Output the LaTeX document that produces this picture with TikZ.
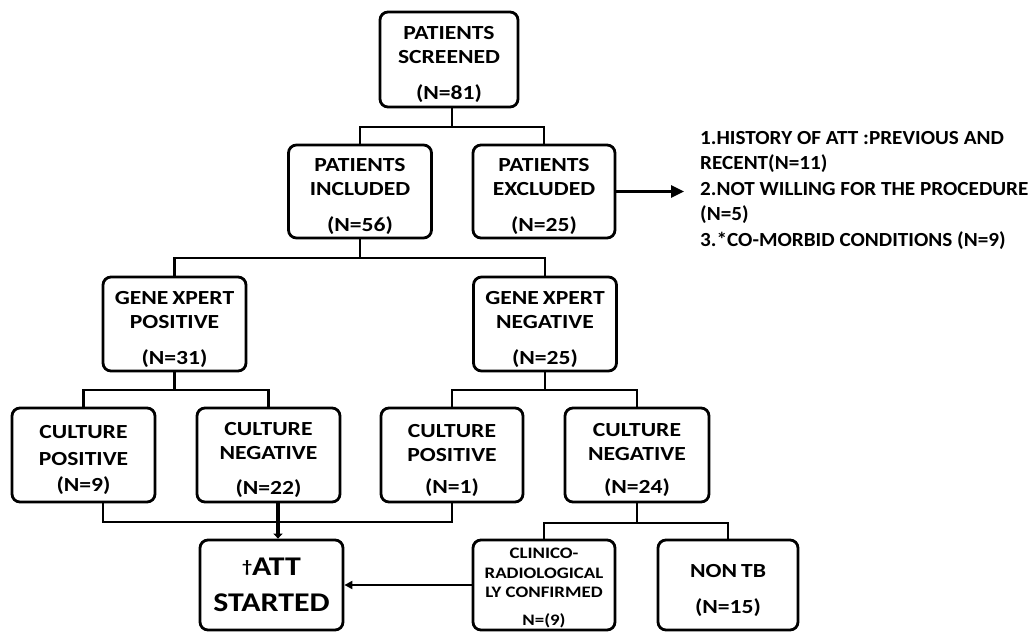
\documentclass[tikz,border=0pt]{standalone}
\usepackage{fontspec}
\setmainfont{Carlito}[FakeStretch=1.06]
\newfontfamily\boxfont{Carlito}[FakeStretch=1.18]
\usetikzlibrary{arrows.meta}
\newcommand{\tp}{\rule{0pt}{24pt}}
\newcommand{\nsp}{\hspace{4pt}}
\begin{document}
\begin{tikzpicture}[x=1pt,y=-1pt,
  box/.style={draw, line width=2.8pt, rounded corners=8pt, minimum width=143pt,
    minimum height=94pt, align=center, inner sep=0pt,
    font=\boxfont\fontsize{20}{24}\selectfont\bfseries},
  conn/.style={line width=2.8pt},
  listtext/.style={anchor=north west, align=left, inner sep=0pt,
    font=\fontsize{20}{25.5}\selectfont\bfseries}]
\useasboundingbox[fill=white] (0,0) rectangle (1033,633);

% boxes
\node[box, minimum width=138pt, minimum height=95pt] (scr) at (449,59.5) {\tp PATIENTS\\SCREENED\\[12pt](N=81)};
\node[box, minimum height=93pt] (inc) at (360,191.5) {\tp PATIENTS\\INCLUDED\\[12pt](N=56)};
\node[box, minimum width=142pt, minimum height=93pt] (exc) at (544,191.5) {\tp PATIENTS\\EXCLUDED\\[12pt](N=25)};
\node[box] (gxp) at (174.5,324) {\tp GENE\nsp XPERT\\POSITIVE\\[12pt](N=31)};
\node[box] (gxn) at (545,324) {\tp GENE\nsp XPERT\\NEGATIVE\\[12pt](N=25)};
\node[box, font=\boxfont\fontsize{20}{26.5}\selectfont\bfseries] (cp1) at (83.5,455) {\tp CULTURE\\POSITIVE\\(N=9)};
\node[box] (cn1) at (268.5,455) {\tp CULTURE\\NEGATIVE\\[11pt](N=22)};
\node[box, minimum width=142pt] (cp2) at (452,455) {\tp CULTURE\\POSITIVE\\[8pt](N=1)};
\node[box, minimum width=144pt] (cn2) at (637,455) {\tp CULTURE\\NEGATIVE\\[9pt](N=24)};
\node[box, minimum height=90pt, font=\boxfont\fontsize{27}{36}\selectfont\bfseries] (att) at (271.5,585) {\raisebox{3pt}{\fontsize{17}{17}\selectfont\dag}ATT\\STARTED};
\node[box, minimum width=142pt, minimum height=90pt, font=\boxfont\fontsize{16}{19.5}\selectfont\bfseries] (cli) at (544,585) {\rule{0pt}{16pt}CLINICO-\\RADIOLOGICAL\\LY CONFIRMED\\[8pt]N=(9)};
\node[box, minimum width=140pt, minimum height=90pt] (ntb) at (728,585) {\tp NON\nsp TB\\[12pt](N=15)};

\node[listtext] (list) at (700,131) {1.HISTORY OF ATT :PREVIOUS AND\\RECENT(N=11)\\2.NOT WILLING FOR THE PROCEDURE\\(N=5)\\3.*CO-MORBID CONDITIONS (N=9)};

% junctions
\coordinate (j1) at (452,127);
\coordinate (j2) at (360,258);
\coordinate (j3) at (174.5,390);
\coordinate (j4) at (545,390);
\coordinate (jb) at (278,522);
\coordinate (j5) at (637,523);
\coordinate (ae) at (684,191.5);

% connectors
\draw[conn] (scr.south -| j1) -- (j1);
\draw[conn] (inc.north) |- (j1) -| (exc.north);
\draw[conn] (inc.south) -- (j2);
\draw[conn] (gxp.north) |- (j2) -| (gxn.north);
\draw[conn] (gxp.south) -- (j3);
\draw[conn] (cp1.north) |- (j3) -| (cn1.north);
\draw[conn] (gxn.south) -- (j4);
\draw[conn] (cp2.north) |- (j4) -| (cn2.north);
\draw[conn] ([xshift=19.5pt]cp1.south) |- (jb) -| (cp2.south);
\draw[line width=4.5pt, -{Triangle[length=5pt,width=9pt]}] (cn1.south -| jb) -- (att.north -| jb);
\draw[conn] (cn2.south) -- (j5);
\draw[conn] (cli.north) |- (j5) -| (ntb.north);
\draw[conn, -{Triangle[length=8pt,width=8pt]}] (cli.west) -- (att.east);
\draw[conn, -{Triangle[length=13pt,width=12pt]}] (exc.east) -- (ae);
\end{tikzpicture}
\end{document}
